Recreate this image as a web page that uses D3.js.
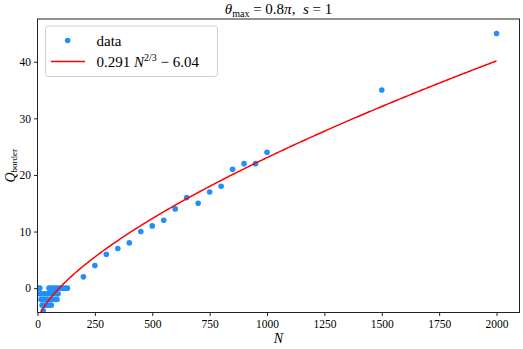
<!DOCTYPE html>
<html>
<head>
<meta charset="utf-8">
<script src="https://cdn.jsdelivr.net/npm/d3@7"></script>
<style>
  html, body { margin: 0; padding: 0; background: #fff; }
  svg { display: block; }
  text { font-family: "Liberation Serif", "DejaVu Serif", serif; fill: #000; }
</style>
</head>
<body>
<svg id="chart" width="523" height="349"></svg>
<script>
// ---- data ----
const largeN = [200, 250, 300, 350, 400, 450, 500, 550, 600, 650, 700, 750, 800, 850, 900, 950, 1000, 1500, 2000];
const largeQ = [2, 4, 6, 7, 8, 10, 11, 12, 14, 16, 15, 17, 18, 21, 22, 22, 24, 35, 45];
// small-N cluster (rows of equal Q)
const clusterN0 = [3, 10, 50, 60, 70, 80, 90, 100, 110, 120, 130];
const clusterN1 = [10, 20, 30, 40, 50, 60, 70, 80, 90];
const clusterN2 = [15, 25, 35, 45, 55, 65, 75, 85];
const clusterN3 = [20, 30, 40, 50, 60];
const clusterN4 = [25];
const clusterQ = [0, -1, -2, -3, -4];
// fit Q = a N^(2/3) + b
const fitA = 0.291, fitB = -6.04;
const xTicks = [0, 250, 500, 750, 1000, 1250, 1500, 1750, 2000];
const yTicks = [0, 10, 20, 30, 40];
const xDomain = [0, 2100];
const yDomain = [-4.3, 47.55];

// ---- build points ----
const points = [];
[clusterN0, clusterN1, clusterN2, clusterN3, clusterN4].forEach((arr, i) => {
  arr.forEach(n => points.push({N: n, Q: clusterQ[i]}));
});
largeN.forEach((n, i) => points.push({N: n, Q: largeQ[i]}));

// ---- layout ----
const svg = d3.select("#chart");
const L = 37.5, R = 519.5, T = 19, B = 312.5;
const x = d3.scaleLinear().domain(xDomain).range([L, R]);
const y = d3.scaleLinear().domain(yDomain).range([B, T]);

svg.append("clipPath").attr("id", "clip")
  .append("rect").attr("x", L).attr("y", T).attr("width", R - L).attr("height", B - T);

const plot = svg.append("g").attr("clip-path", "url(#clip)");

plot.selectAll("circle.pt").data(points).enter().append("circle")
  .attr("class", "pt")
  .attr("cx", d => x(d.N)).attr("cy", d => y(d.Q)).attr("r", 2.8)
  .attr("fill", "#1f8ffe");

const fitN = d3.range(0, 2000.1, 5);
const line = d3.line().x(n => x(n)).y(n => y(fitA * Math.pow(n, 2/3) + fitB));
plot.append("path").datum(fitN).attr("d", line)
  .attr("fill", "none").attr("stroke", "#ff0000").attr("stroke-width", 1.5);

// ---- axes ----
const xAxis = d3.axisBottom(x).tickValues(xTicks).tickSize(3.5).tickPadding(4).tickFormat(d3.format("d"));
const gx = svg.append("g").attr("transform", `translate(0,${B})`).call(xAxis);
gx.select(".domain").remove();
gx.selectAll("line").attr("stroke", "#222");
gx.selectAll("text").attr("font-size", 11.5).attr("fill", "#000")
  .style("font-family", '"Liberation Serif", serif');

const yAxis = d3.axisLeft(y).tickValues(yTicks).tickSize(3.5).tickPadding(3).tickFormat(d3.format("d"));
const gy = svg.append("g").attr("transform", `translate(${L},0)`).call(yAxis);
gy.select(".domain").remove();
gy.selectAll("line").attr("stroke", "#222");
gy.selectAll("text").attr("font-size", 11.5).attr("fill", "#000")
  .style("font-family", '"Liberation Serif", serif');

// frame
svg.append("rect").attr("x", L).attr("y", T).attr("width", R - L).attr("height", B - T)
  .attr("fill", "none").attr("stroke", "#222").attr("stroke-width", 1);

// ---- title ----
const title = svg.append("text").attr("x", (L + R) / 2).attr("y", 14)
  .attr("text-anchor", "middle").attr("font-size", 15);
title.append("tspan").attr("font-style", "italic").text("θ");
title.append("tspan").attr("font-size", 10).attr("dy", 3).text("max");
title.append("tspan").attr("dy", -3).text(" = 0.8");
title.append("tspan").attr("font-style", "italic").text("π");
title.append("tspan").text(",\u2002");
title.append("tspan").attr("font-style", "italic").text("s");
title.append("tspan").text(" = 1");

// ---- axis labels ----
svg.append("text").attr("x", (L + R) / 2).attr("y", 343)
  .attr("text-anchor", "middle").attr("font-size", 14).attr("font-style", "italic").text("N");

const yl = svg.append("text").attr("transform", `translate(15,${(T + B) / 2}) rotate(-90)`)
  .attr("text-anchor", "middle").attr("font-size", 14);
yl.append("tspan").attr("font-style", "italic").text("Q");
yl.append("tspan").attr("font-size", 9).attr("dy", 2).text("border");

// ---- legend ----
const lg = svg.append("g");
lg.append("rect").attr("x", 45.5).attr("y", 26).attr("width", 172).attr("height", 50.5)
  .attr("rx", 3).attr("fill", "#fff").attr("fill-opacity", 0.8)
  .attr("stroke", "#d0d0d0").attr("stroke-width", 1);
lg.append("circle").attr("cx", 67.7).attr("cy", 40.5).attr("r", 2.8).attr("fill", "#1f8ffe");
lg.append("text").attr("x", 96.5).attr("y", 45.5).attr("font-size", 15).text("data");
lg.append("line").attr("x1", 51).attr("x2", 85).attr("y1", 61.5).attr("y2", 61.5)
  .attr("stroke", "#ff0000").attr("stroke-width", 1.5);
const lt = lg.append("text").attr("x", 96.5).attr("y", 67).attr("font-size", 15);
lt.append("tspan").text(fitA.toFixed(3) + " ");
lt.append("tspan").attr("font-style", "italic").text("N");
lt.append("tspan").attr("font-size", 10).attr("dy", -6).text("2/3");
lt.append("tspan").attr("dy", 6).text(" − " + Math.abs(fitB).toFixed(2));
</script>
</body>
</html>
